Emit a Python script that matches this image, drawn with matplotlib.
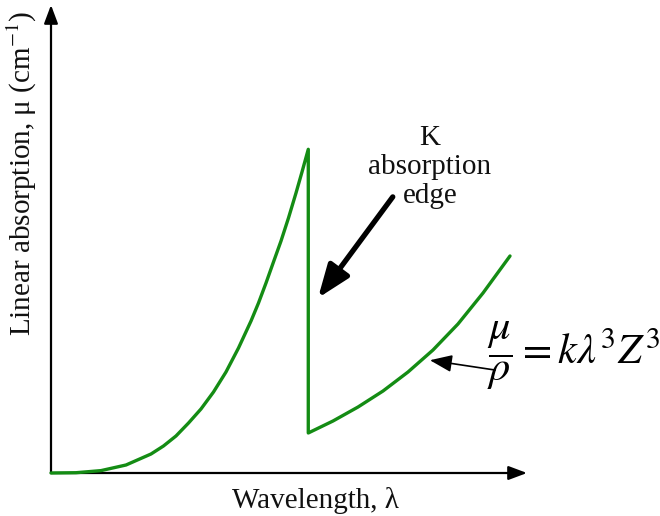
import matplotlib
matplotlib.use("Agg")
import matplotlib.pyplot as plt

plt.rcParams["font.family"] = ["Liberation Serif", "DejaVu Serif"]
plt.rcParams["mathtext.fontset"] = "stix"

# Absorption below the K edge (short-wavelength branch)
wl_low = [0.0, 0.525, 1.05, 1.576, 2.101, 2.363, 2.626, 2.889, 3.151, 3.414, 3.676,
          3.939, 4.202, 4.359, 4.517, 4.674, 4.832, 4.989, 5.147, 5.273, 5.405]
mu_low = [0.0, 0.006, 0.051, 0.171, 0.406, 0.577, 0.791, 1.068, 1.368, 1.731, 2.158,
          2.671, 3.248, 3.632, 4.060, 4.509, 4.957, 5.449, 5.983, 6.432, 6.917]

# Absorption beyond the K edge (long-wavelength branch)
wl_high = [5.405, 5.924, 6.450, 6.975, 7.500, 8.025, 8.550, 9.076, 9.643]
mu_high = [0.855, 1.111, 1.410, 1.752, 2.158, 2.628, 3.184, 3.846, 4.637]

edge_label = "K\nabsorption\nedge"
x_label = "Wavelength, λ"
y_label = "Linear absorption, μ (cm$^{-1}$)"
formula = r"$\dfrac{\mu}{\rho}=k\lambda^{3}Z^{3}$"

W, H = 660, 516
fig = plt.figure(figsize=(W / 100, H / 100), dpi=100)
ax = fig.add_axes([51 / W, 43 / H, 476 / W, 468 / H])
ax.set_xlim(0, 10)
ax.set_ylim(0, 10)
for s in ax.spines.values():
    s.set_visible(False)
ax.set_xticks([])
ax.set_yticks([])
ax.patch.set_alpha(0)

# Axes drawn as arrows
arrow_kw = dict(arrowstyle="-|>,head_length=0.8,head_width=0.3", color="black",
                lw=1.6, mutation_scale=14, shrinkA=0, shrinkB=0)
ax.annotate("", xy=(1, 0), xytext=(0, 0), xycoords="axes fraction",
            textcoords="axes fraction", arrowprops=arrow_kw, annotation_clip=False)
ax.annotate("", xy=(0, 1), xytext=(0, 0), xycoords="axes fraction",
            textcoords="axes fraction", arrowprops=arrow_kw, annotation_clip=False)

# Absorption curve with the K edge jump
wl = wl_low + wl_high
mu = mu_low + mu_high
ax.plot(wl, mu, color="#148c14", lw=2.4, solid_joinstyle="round",
        solid_capstyle="round", clip_on=False, zorder=3)

# K edge label and pointer
ax.annotate("", xy=(5.61, 3.74), xytext=(7.18, 5.90),
            arrowprops=dict(arrowstyle="-|>,head_length=1.0,head_width=0.38",
                            color="black", lw=3.8, mutation_scale=20,
                            shrinkA=0, shrinkB=0))
ax.text(7.96, 6.54, edge_label, ha="center", va="center", fontsize=21,
        linespacing=1.15, color="#111111")

# Mass absorption formula with pointer to the curve
ax.annotate("", xy=(7.96, 2.41), xytext=(9.33, 2.20),
            arrowprops=dict(arrowstyle="-|>,head_length=0.9,head_width=0.35",
                            color="black", lw=1.2, mutation_scale=15,
                            shrinkA=0, shrinkB=0), annotation_clip=False)
ax.text(9.16, 2.50, formula, ha="left", va="center", fontsize=30.5,
        color="black", clip_on=False)

fig.text(22 / W, 1 - 173 / H, y_label, rotation=90, ha="center", va="center",
         fontsize=21, color="#111111")
fig.text(315 / W, (H - 508) / H, x_label, ha="center", va="baseline",
         fontsize=21, color="#111111")

fig.savefig("out.png", dpi=100)
